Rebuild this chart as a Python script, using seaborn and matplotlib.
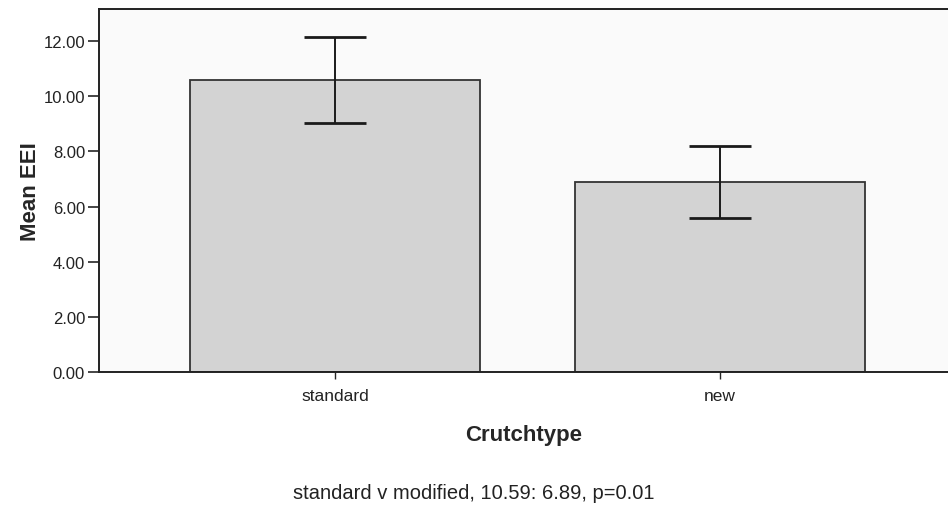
import matplotlib
matplotlib.use("Agg")
import matplotlib.pyplot as plt
import pandas as pd
import seaborn as sns

crutch_types = ["standard", "new"]
mean_eei = [10.59, 6.89]
err_eei = [1.55, 1.31]
y_ticks = [0, 2, 4, 6, 8, 10, 12]
note = "standard v modified, 10.59: 6.89, p=0.01"

sns.set_style("white")
plt.rcParams['font.family'] = ['Liberation Sans', 'DejaVu Sans']

df = pd.DataFrame({"Crutchtype": crutch_types, "Mean EEI": mean_eei})

fig = plt.figure(figsize=(9.48, 5.06), dpi=100)
ax = fig.add_axes([0.1044, 0.262, 0.8956, 0.718])
ax.set_facecolor("#fafafa")

sns.barplot(data=df, x="Crutchtype", y="Mean EEI", color="#d3d3d3",
            edgecolor="#333333", linewidth=1.3, width=0.753,
            saturation=1, errorbar=None, ax=ax)
ax.errorbar(range(len(crutch_types)), mean_eei, yerr=err_eei, fmt="none",
            ecolor="#1a1a1a", elinewidth=1.4, capsize=22, capthick=2)

ax.set_xlim(-0.613, 1.592)
ax.set_ylim(0, 13.15)
ax.set_yticks(y_ticks)
ax.set_yticklabels([f"{v:.2f}" for v in y_ticks], fontsize=12, color="#222222")
ax.tick_params(axis="x", labelsize=12.5, labelcolor="#222222", length=5,
               width=1, direction="out", bottom=True, pad=6)
ax.tick_params(axis="y", length=8, width=1.2, direction="out", left=True, pad=2)

for side in ["left", "bottom", "top"]:
    ax.spines[side].set_color("#222222")
    ax.spines[side].set_linewidth(1.4)
ax.spines["right"].set_visible(False)

ax.set_xlabel("Crutchtype", fontsize=16, fontweight="bold", labelpad=15)
ax.set_ylabel("Mean EEI", fontsize=16, fontweight="bold", labelpad=2)

fig.text(0.5, 0.006, note, ha="center", va="bottom", fontsize=14.5, color="#222222")

fig.savefig("out.png", dpi=100)
